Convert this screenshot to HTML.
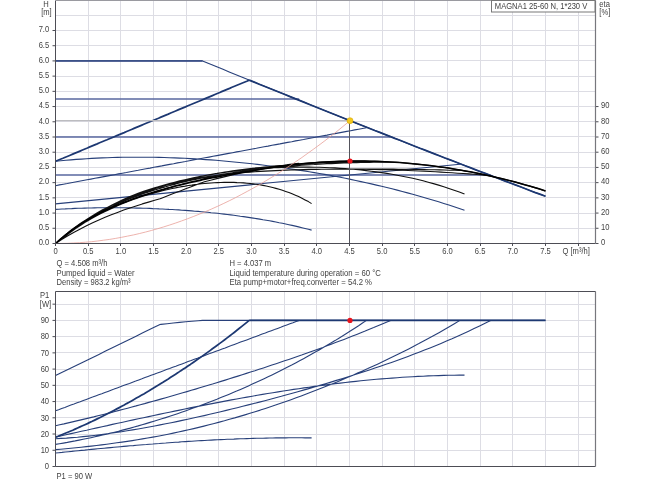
<!DOCTYPE html>
<html><head><meta charset="utf-8"><title>MAGNA1 25-60 N</title><style>html,body{margin:0;padding:0;background:#fff;overflow:hidden}</style></head><body>
<svg width="650" height="487" viewBox="0 0 650 487" style="display:block;font-family:'Liberation Sans',sans-serif;font-size:8.9px" fill="#3e3e3e">
<rect width="650" height="487" fill="#fff"/>
<path d="M88.5 0.5V243.5M88.5 291.5V466.5M120.5 0.5V243.5M120.5 291.5V466.5M153.5 0.5V243.5M153.5 291.5V466.5M186.5 0.5V243.5M186.5 291.5V466.5M218.5 0.5V243.5M218.5 291.5V466.5M251.5 0.5V243.5M251.5 291.5V466.5M284.5 0.5V243.5M284.5 291.5V466.5M316.5 0.5V243.5M316.5 291.5V466.5M349.5 0.5V243.5M349.5 291.5V466.5M382.5 0.5V243.5M382.5 291.5V466.5M414.5 0.5V243.5M414.5 291.5V466.5M447.5 0.5V243.5M447.5 291.5V466.5M480.5 0.5V243.5M480.5 291.5V466.5M512.5 0.5V243.5M512.5 291.5V466.5M545.5 0.5V243.5M545.5 291.5V466.5M578.5 0.5V243.5M578.5 291.5V466.5M55.5 228.5H595.5M55.5 213.5H595.5M55.5 197.5H595.5M55.5 182.5H595.5M55.5 167.5H595.5M55.5 152.5H595.5M55.5 136.5H595.5M55.5 121.5H595.5M55.5 106.5H595.5M55.5 91.5H595.5M55.5 76.5H595.5M55.5 60.5H595.5M55.5 45.5H595.5M55.5 30.5H595.5M55.5 15.5H595.5M55.5 450.5H595.5M55.5 434.5H595.5M55.5 417.5H595.5M55.5 401.5H595.5M55.5 385.5H595.5M55.5 369.5H595.5M55.5 352.5H595.5M55.5 336.5H595.5M55.5 320.5H595.5M55.5 304.5H595.5" stroke="#dddde4" stroke-width="1" fill="none"/>
<path d="M55.5 99.0L58.6 99.0L61.7 99.0L64.8 99.0L67.8 99.0L70.9 99.0L74.0 99.0L77.1 99.0L80.2 99.0L83.3 99.0L86.3 99.0L89.4 99.0L92.5 99.0L95.6 99.0L98.7 99.0L101.8 99.0L104.9 99.0L107.9 99.0L111.0 99.0L114.1 99.0L117.2 99.0L120.3 99.0L123.4 99.0L126.4 99.0L129.5 99.0L132.6 99.0L135.7 99.0L138.8 99.0L141.9 99.0L145.0 99.0L148.0 99.0L151.1 99.0L154.2 99.0L157.3 99.0L160.4 99.0L163.5 99.0L166.5 99.0L169.6 99.0L172.7 99.0L175.8 99.0L178.9 99.0L182.0 99.0L185.1 99.0L188.1 99.0L191.2 99.0L194.3 99.0L197.4 99.0L200.5 99.0L203.6 99.0L206.6 99.0L209.7 99.0L212.8 99.0L215.9 99.0L219.0 99.0L222.1 99.0L225.2 99.0L228.2 99.0L231.3 99.0L234.4 99.0L237.5 99.0L240.6 99.0L243.7 99.0L246.7 99.0L249.8 99.0L252.9 99.0L256.0 99.0L259.1 99.0L262.2 99.0L265.3 99.0L268.3 99.0L271.4 99.0L274.5 99.0L277.6 99.0L280.7 99.0L283.8 99.0L286.8 99.0L289.9 99.0L293.0 99.0L296.1 99.0L299.2 99.0M55.5 137.0L59.7 137.0L64.0 137.0L68.2 137.0L72.5 137.0L76.7 137.0L81.0 137.0L85.2 137.0L89.4 137.0L93.7 137.0L97.9 137.0L102.2 137.0L106.4 137.0L110.7 137.0L114.9 137.0L119.1 137.0L123.4 137.0L127.6 137.0L131.9 137.0L136.1 137.0L140.3 137.0L144.6 137.0L148.8 137.0L153.1 137.0L157.3 137.0L161.6 137.0L165.8 137.0L170.0 137.0L174.3 137.0L178.5 137.0L182.8 137.0L187.0 137.0L191.3 137.0L195.5 137.0L199.7 137.0L204.0 137.0L208.2 137.0L212.5 137.0L216.7 137.0L221.0 137.0L225.2 137.0L229.4 137.0L233.7 137.0L237.9 137.0L242.2 137.0L246.4 137.0L250.6 137.0L254.9 137.0L259.1 137.0L263.4 137.0L267.6 137.0L271.9 137.0L276.1 137.0L280.3 137.0L284.6 137.0L288.8 137.0L293.1 137.0L297.3 137.0L301.6 137.0L305.8 137.0L310.0 137.0L314.3 137.0L318.5 137.0L322.8 137.0L327.0 137.0L331.3 137.0L335.5 137.0L339.7 137.0L344.0 137.0L348.2 137.0L352.5 137.0L356.7 137.0L360.9 137.0L365.2 137.0L369.4 137.0L373.7 137.0L377.9 137.0L382.2 137.0L386.4 137.0L390.6 137.0M55.5 175.0L61.0 175.0L66.5 175.0L72.0 175.0L77.5 175.0L83.0 175.0L88.5 175.0L94.1 175.0L99.6 175.0L105.1 175.0L110.6 175.0L116.1 175.0L121.6 175.0L127.1 175.0L132.6 175.0L138.1 175.0L143.6 175.0L149.1 175.0L154.6 175.0L160.1 175.0L165.7 175.0L171.2 175.0L176.7 175.0L182.2 175.0L187.7 175.0L193.2 175.0L198.7 175.0L204.2 175.0L209.7 175.0L215.2 175.0L220.7 175.0L226.2 175.0L231.7 175.0L237.2 175.0L242.8 175.0L248.3 175.0L253.8 175.0L259.3 175.0L264.8 175.0L270.3 175.0L275.8 175.0L281.3 175.0L286.8 175.0L292.3 175.0L297.8 175.0L303.3 175.0L308.8 175.0L314.4 175.0L319.9 175.0L325.4 175.0L330.9 175.0L336.4 175.0L341.9 175.0L347.4 175.0L352.9 175.0L358.4 175.0L363.9 175.0L369.4 175.0L374.9 175.0L380.4 175.0L386.0 175.0L391.5 175.0L397.0 175.0L402.5 175.0L408.0 175.0L413.5 175.0L419.0 175.0L424.5 175.0L430.0 175.0L435.5 175.0L441.0 175.0L446.5 175.0L452.0 175.0L457.6 175.0L463.1 175.0L468.6 175.0L474.1 175.0L479.6 175.0L485.1 175.0L490.6 175.0M55.5 60.9H202.5" stroke="#5a68a0" stroke-width="1.5" fill="none"/>
<path d="M55.5 60.9L61.7 60.9L67.9 60.9L74.1 60.9L80.3 60.9L86.5 60.9L92.7 60.9L98.9 60.9L105.1 60.9L111.3 60.9L117.5 60.9L123.7 60.9L129.9 60.9L136.1 60.9L142.3 60.9L148.5 60.9L154.7 60.9L160.0 60.9L160.9 60.9L167.1 60.9L173.3 60.9L179.5 60.9L179.6 60.9L185.7 60.9L191.9 60.9L198.2 60.9L202.5 60.9L204.4 61.7L210.6 64.2L216.8 66.8L223.0 69.3L229.2 71.9L235.4 74.4L241.6 77.0L247.8 79.5L254.0 82.0L260.2 84.5L266.4 87.1L272.6 89.6L278.8 92.1L285.0 94.6L291.2 97.1L297.4 99.6L303.6 102.1L309.8 104.6L316.0 107.1L322.2 109.6L328.4 112.0L334.6 114.5L340.8 117.0L347.0 119.5L353.2 121.9L359.4 124.4L365.6 126.8L371.8 129.3L378.0 131.7L384.2 134.2L390.4 136.6L396.6 139.1L402.8 141.5L409.0 143.9L415.2 146.4L421.4 148.8L427.6 151.2L433.8 153.6L440.0 156.0L446.2 158.4L452.4 160.8L458.6 163.2L464.8 165.6L471.0 168.0L477.3 170.4L483.5 172.8L489.7 175.1L495.9 177.5L502.1 179.9L508.3 182.2L514.5 184.6L520.7 187.0L526.9 189.3L533.1 191.7L539.3 194.0L545.5 196.3M55.5 185.7L59.4 184.9L63.4 184.2L67.3 183.5L71.2 182.7L75.2 182.0L79.1 181.3L83.1 180.5L87.0 179.8L90.9 179.1L94.9 178.3L98.8 177.6L102.7 176.9L106.7 176.1L110.6 175.4L114.5 174.7L118.5 173.9L122.4 173.2L126.4 172.5L130.3 171.7L134.2 171.0L138.2 170.3L142.1 169.5L146.0 168.8L150.0 168.1L153.9 167.3L157.8 166.6L161.8 165.9L165.7 165.1L169.7 164.4L173.6 163.7L177.5 162.9L181.5 162.2L185.4 161.5L189.3 160.7L193.3 160.0L197.2 159.3L201.1 158.5L205.1 157.8L209.0 157.1L213.0 156.3L216.9 155.6L220.8 154.9L224.8 154.1L228.7 153.4L232.6 152.7L236.6 151.9L240.5 151.2L244.4 150.5L248.4 149.7L252.3 149.0L256.3 148.3L260.2 147.5L264.1 146.8L268.1 146.1L272.0 145.3L275.9 144.6L279.9 143.9L283.8 143.1L287.7 142.4L291.7 141.7L295.6 140.9L299.6 140.2L303.5 139.5L307.4 138.7L311.4 138.0L315.3 137.3L319.2 136.5L323.2 135.8L327.1 135.1L331.0 134.3L335.0 133.6L338.9 132.9L342.9 132.1L346.8 131.4L350.7 130.7L354.7 129.9L358.6 129.2L362.5 128.5L366.5 127.7M55.5 203.9L60.6 203.4L65.7 202.9L70.9 202.4L76.0 201.9L81.1 201.4L86.2 200.9L91.3 200.4L96.5 199.9L101.6 199.4L106.7 198.9L111.8 198.4L116.9 197.9L122.0 197.4L127.2 196.9L132.3 196.4L137.4 195.9L142.5 195.4L147.6 194.9L152.8 194.4L157.9 193.9L163.0 193.4L168.1 192.9L173.2 192.4L178.4 191.9L183.5 191.4L188.6 190.9L193.7 190.4L198.8 189.9L203.9 189.4L209.1 188.9L214.2 188.4L219.3 187.9L224.4 187.4L229.5 186.9L234.7 186.4L239.8 185.9L244.9 185.4L250.0 184.9L255.1 184.3L260.3 183.8L265.4 183.3L270.5 182.8L275.6 182.3L280.7 181.8L285.9 181.3L291.0 180.8L296.1 180.3L301.2 179.8L306.3 179.3L311.4 178.8L316.6 178.3L321.7 177.8L326.8 177.3L331.9 176.8L337.0 176.3L342.2 175.8L347.3 175.3L352.4 174.8L357.5 174.3L362.6 173.8L367.8 173.3L372.9 172.8L378.0 172.3L383.1 171.8L388.2 171.3L393.3 170.8L398.5 170.3L403.6 169.8L408.7 169.3L413.8 168.8L418.9 168.3L424.1 167.8L429.2 167.3L434.3 166.8L439.4 166.3L444.5 165.8L449.7 165.3L454.8 164.8L459.9 164.3M55.5 161.3L60.7 160.8L65.9 160.3L71.0 159.9L76.2 159.4L81.4 159.1L86.6 158.7L91.7 158.4L96.9 158.1L102.1 157.9L107.3 157.7L112.4 157.5L117.6 157.4L122.8 157.3L128.0 157.2L133.2 157.2L138.3 157.2L143.5 157.2L148.7 157.2L153.9 157.3L159.0 157.4L164.2 157.5L169.4 157.7L174.6 157.9L179.7 158.1L184.9 158.3L190.1 158.6L195.3 158.9L200.4 159.2L205.6 159.6L210.8 159.9L216.0 160.3L221.2 160.8L226.3 161.2L231.5 161.7L236.7 162.2L241.9 162.7L247.0 163.2L252.2 163.8L257.4 164.4L262.6 165.0L267.7 165.7L272.9 166.3L278.1 167.0L283.3 167.8L288.5 168.5L293.6 169.3L298.8 170.1L304.0 170.9L309.2 171.7L314.3 172.6L319.5 173.5L324.7 174.4L329.9 175.3L335.0 176.3L340.2 177.3L345.4 178.3L350.6 179.4L355.8 180.5L360.9 181.6L366.1 182.7L371.3 183.9L376.5 185.1L381.6 186.3L386.8 187.5L392.0 188.8L397.2 190.1L402.3 191.5L407.5 192.9L412.7 194.3L417.9 195.7L423.1 197.2L428.2 198.7L433.4 200.3L438.6 201.8L443.8 203.5L448.9 205.1L454.1 206.8L459.3 208.6L464.5 210.3M55.5 209.4L58.7 209.2L62.0 209.0L65.2 208.9L68.5 208.7L71.7 208.6L75.0 208.4L78.2 208.3L81.4 208.2L84.7 208.1L87.9 208.0L91.2 208.0L94.4 207.9L97.6 207.8L100.9 207.8L104.1 207.8L107.4 207.8L110.6 207.7L113.9 207.8L117.1 207.8L120.3 207.8L123.6 207.8L126.8 207.9L130.1 207.9L133.3 208.0L136.5 208.1L139.8 208.1L143.0 208.2L146.3 208.3L149.5 208.4L152.8 208.6L156.0 208.7L159.2 208.9L162.5 209.0L165.7 209.2L169.0 209.4L172.2 209.5L175.4 209.7L178.7 209.9L181.9 210.2L185.2 210.4L188.4 210.6L191.7 210.9L194.9 211.2L198.1 211.4L201.4 211.7L204.6 212.0L207.9 212.3L211.1 212.7L214.3 213.0L217.6 213.3L220.8 213.7L224.1 214.1L227.3 214.5L230.6 214.9L233.8 215.3L237.0 215.7L240.3 216.2L243.5 216.6L246.8 217.1L250.0 217.6L253.2 218.1L256.5 218.6L259.7 219.1L263.0 219.7L266.2 220.2L269.5 220.8L272.7 221.4L275.9 222.0L279.2 222.7L282.4 223.3L285.7 224.0L288.9 224.7L292.1 225.4L295.4 226.1L298.6 226.9L301.9 227.7L305.1 228.5L308.4 229.3L311.6 230.1M366.5 127.9L366.5 127.2" stroke="#28407a" stroke-width="1.1" fill="none" stroke-linejoin="round"/>
<path d="M55.5 161.3L58.0 160.3L60.4 159.3L62.9 158.3L65.3 157.2L67.8 156.2L70.2 155.2L72.7 154.1L75.1 153.1L77.6 152.1L80.0 151.1L82.5 150.0L84.9 149.0L87.4 148.0L89.8 146.9L92.3 145.9L94.7 144.9L97.2 143.9L99.6 142.8L102.1 141.8L104.5 140.8L107.0 139.8L109.4 138.7L111.9 137.7L114.3 136.7L116.8 135.6L119.3 134.6L121.7 133.6L124.2 132.6L126.6 131.5L129.1 130.5L131.5 129.5L134.0 128.4L136.4 127.4L138.9 126.4L141.3 125.4L143.8 124.3L146.2 123.3L148.7 122.3L151.1 121.3L153.6 120.2L156.0 119.2L158.5 118.2L160.9 117.1L163.4 116.1L165.8 115.1L168.3 114.1L170.7 113.0L173.2 112.0L175.6 111.0L178.1 109.9L180.5 108.9L183.0 107.9L185.5 106.9L187.9 105.8L190.4 104.8L192.8 103.8L195.3 102.7L197.7 101.7L200.2 100.7L202.6 99.7L205.1 98.6L207.5 97.6L210.0 96.6L212.4 95.6L214.9 94.5L217.3 93.5L219.8 92.5L222.2 91.4L224.7 90.4L227.1 89.4L229.6 88.4L232.0 87.3L234.5 86.3L236.9 85.3L239.4 84.2L241.8 83.2L244.3 82.2L246.8 81.2L249.2 80.1M249.2 80.1L254.2 82.1L259.2 84.2L264.3 86.2L269.3 88.2L274.3 90.3L279.3 92.3L284.4 94.3L289.4 96.4L294.4 98.4L299.4 100.4L304.4 102.4L309.5 104.5L314.5 106.5L319.5 108.5L324.5 110.5L329.5 112.5L334.6 114.5L339.6 116.5L344.6 118.5L349.6 120.5L354.7 122.5L359.7 124.5L364.7 126.5L369.7 128.5L374.7 130.5L379.8 132.4L384.8 134.4L389.8 136.4L394.8 138.4L399.9 140.3L404.9 142.3L409.9 144.3L414.9 146.2L419.9 148.2L425.0 150.1L430.0 152.1L435.0 154.1L440.0 156.0L445.0 158.0L450.1 159.9L455.1 161.8L460.1 163.8L465.1 165.7L470.2 167.6L475.2 169.6L480.2 171.5L485.2 173.4L490.2 175.4L495.3 177.3L500.3 179.2L505.3 181.1L510.3 183.0L515.3 184.9L520.4 186.8L525.4 188.7L530.4 190.7L535.4 192.6L540.5 194.4L545.5 196.3" stroke="#1d3872" stroke-width="1.75" fill="none" stroke-linejoin="round"/>
<path d="M55.5 375.6L61.7 372.6L67.9 369.5L74.1 366.5L80.3 363.5L86.5 360.4L92.7 357.4L98.9 354.4L105.1 351.3L111.3 348.3L117.5 345.3L123.7 342.2L129.9 339.2L136.1 336.2L142.3 333.1L148.5 330.1L154.7 327.1L160.0 324.5L160.9 324.4L167.1 323.7L173.3 323.0L179.5 322.4L179.6 322.4L185.7 321.8L191.9 321.3L198.2 320.8L202.5 320.4L204.4 320.4L210.6 320.4L216.8 320.4L223.0 320.4L229.2 320.4L235.4 320.4L241.6 320.4L247.8 320.4L254.0 320.4L260.2 320.4L266.4 320.4L272.6 320.4L278.8 320.4L285.0 320.4L291.2 320.4L297.4 320.4L303.6 320.4L309.8 320.4L316.0 320.4L322.2 320.4L328.4 320.4L334.6 320.4L340.8 320.4L347.0 320.4L353.2 320.4L359.4 320.4L365.6 320.4L371.8 320.4L378.0 320.4L384.2 320.4L390.4 320.4L396.6 320.4L402.8 320.4L409.0 320.4L415.2 320.4L421.4 320.4L427.6 320.4L433.8 320.4L440.0 320.4L446.2 320.4L452.4 320.4L458.6 320.4L464.8 320.4L471.0 320.4L477.3 320.4L483.5 320.4L489.7 320.4L495.9 320.4L502.1 320.4L508.3 320.4L514.5 320.4L520.7 320.4L526.9 320.4L533.1 320.4L539.3 320.4L545.5 320.4M55.5 410.8L58.6 409.7L61.7 408.5L64.8 407.4L67.8 406.2L70.9 405.1L74.0 404.0L77.1 402.8L80.2 401.7L83.3 400.5L86.3 399.4L89.4 398.2L92.5 397.1L95.6 395.9L98.7 394.8L101.8 393.7L104.9 392.5L107.9 391.4L111.0 390.2L114.1 389.1L117.2 387.9L120.3 386.8L123.4 385.6L126.4 384.5L129.5 383.4L132.6 382.2L135.7 381.1L138.8 379.9L141.9 378.8L145.0 377.6L148.0 376.5L151.1 375.3L154.2 374.2L157.3 373.1L160.4 371.9L163.5 370.8L166.5 369.6L169.6 368.5L172.7 367.3L175.8 366.2L178.9 365.0L182.0 363.9L185.1 362.8L188.1 361.6L191.2 360.5L194.3 359.3L197.4 358.2L200.5 357.0L203.6 355.9L206.6 354.7L209.7 353.6L212.8 352.4L215.9 351.3L219.0 350.2L222.1 349.0L225.2 347.9L228.2 346.7L231.3 345.6L234.4 344.4L237.5 343.3L240.6 342.1L243.7 341.0L246.7 339.9L249.8 338.7L252.9 337.6L256.0 336.4L259.1 335.3L262.2 334.1L265.3 333.0L268.3 331.8L271.4 330.7L274.5 329.6L277.6 328.4L280.7 327.3L283.8 326.1L286.8 325.0L289.9 323.8L293.0 322.7L296.1 321.5L299.2 320.4M55.5 425.8L59.7 424.8L64.0 423.9L68.2 422.9L72.5 421.9L76.7 420.9L81.0 419.9L85.2 418.9L89.4 417.9L93.7 416.9L97.9 415.8L102.2 414.7L106.4 413.7L110.7 412.6L114.9 411.5L119.1 410.4L123.4 409.3L127.6 408.2L131.9 407.0L136.1 405.9L140.3 404.7L144.6 403.6L148.8 402.4L153.1 401.2L157.3 400.1L161.6 398.9L165.8 397.7L170.0 396.5L174.3 395.2L178.5 394.0L182.8 392.8L187.0 391.6L191.3 390.3L195.5 389.1L199.7 387.8L204.0 386.5L208.2 385.2L212.5 384.0L216.7 382.7L221.0 381.4L225.2 380.1L229.4 378.7L233.7 377.4L237.9 376.1L242.2 374.7L246.4 373.4L250.6 372.0L254.9 370.7L259.1 369.3L263.4 367.9L267.6 366.5L271.9 365.1L276.1 363.7L280.3 362.2L284.6 360.8L288.8 359.4L293.1 357.9L297.3 356.4L301.6 355.0L305.8 353.5L310.0 352.0L314.3 350.4L318.5 348.9L322.8 347.4L327.0 345.8L331.3 344.2L335.5 342.6L339.7 341.0L344.0 339.4L348.2 337.8L352.5 336.1L356.7 334.4L360.9 332.8L365.2 331.1L369.4 329.3L373.7 327.6L377.9 325.8L382.2 324.0L386.4 322.2L390.6 320.4M55.5 438.7L61.0 438.4L66.5 438.1L72.0 437.6L77.5 437.2L83.0 436.6L88.5 436.1L94.1 435.5L99.6 434.8L105.1 434.1L110.6 433.3L116.1 432.5L121.6 431.7L127.1 430.8L132.6 429.9L138.1 429.0L143.6 428.0L149.1 427.0L154.6 426.0L160.1 424.9L165.7 423.8L171.2 422.7L176.7 421.6L182.2 420.4L187.7 419.2L193.2 418.0L198.7 416.8L204.2 415.6L209.7 414.3L215.2 413.0L220.7 411.7L226.2 410.4L231.7 409.0L237.2 407.7L242.8 406.3L248.3 404.9L253.8 403.5L259.3 402.1L264.8 400.7L270.3 399.2L275.8 397.7L281.3 396.3L286.8 394.7L292.3 393.2L297.8 391.7L303.3 390.1L308.8 388.6L314.4 387.0L319.9 385.4L325.4 383.7L330.9 382.1L336.4 380.4L341.9 378.7L347.4 377.0L352.9 375.3L358.4 373.5L363.9 371.7L369.4 369.9L374.9 368.1L380.4 366.2L386.0 364.3L391.5 362.4L397.0 360.4L402.5 358.4L408.0 356.4L413.5 354.3L419.0 352.2L424.5 350.1L430.0 347.9L435.5 345.7L441.0 343.4L446.5 341.0L452.0 338.7L457.6 336.2L463.1 333.7L468.6 331.2L474.1 328.6L479.6 325.9L485.1 323.2L490.6 320.4M55.5 444.4L59.4 443.8L63.4 443.1L67.3 442.4L71.2 441.6L75.2 440.9L79.1 440.1L83.1 439.3L87.0 438.5L90.9 437.7L94.9 436.8L98.8 435.9L102.7 435.0L106.7 434.1L110.6 433.1L114.5 432.2L118.5 431.2L122.4 430.1L126.4 429.1L130.3 428.1L134.2 427.0L138.2 425.9L142.1 424.7L146.0 423.6L150.0 422.4L153.9 421.2L157.8 420.0L161.8 418.8L165.7 417.6L169.7 416.3L173.6 415.0L177.5 413.7L181.5 412.3L185.4 410.9L189.3 409.6L193.3 408.1L197.2 406.7L201.1 405.3L205.1 403.8L209.0 402.3L213.0 400.7L216.9 399.2L220.8 397.6L224.8 396.0L228.7 394.4L232.6 392.7L236.6 391.1L240.5 389.4L244.4 387.7L248.4 385.9L252.3 384.1L256.3 382.3L260.2 380.5L264.1 378.7L268.1 376.8L272.0 374.9L275.9 373.0L279.9 371.0L283.8 369.0L287.7 367.0L291.7 365.0L295.6 362.9L299.6 360.8L303.5 358.7L307.4 356.5L311.4 354.3L315.3 352.1L319.2 349.9L323.2 347.6L327.1 345.3L331.0 342.9L335.0 340.6L338.9 338.2L342.9 335.7L346.8 333.3L350.7 330.8L354.7 328.2L358.6 325.7L362.5 323.0L366.5 320.4M55.5 449.6L60.6 449.2L65.7 448.7L70.9 448.2L76.0 447.7L81.1 447.2L86.2 446.6L91.3 446.1L96.5 445.5L101.6 444.9L106.7 444.2L111.8 443.5L116.9 442.8L122.0 442.1L127.2 441.4L132.3 440.6L137.4 439.8L142.5 438.9L147.6 438.0L152.8 437.1L157.9 436.2L163.0 435.2L168.1 434.2L173.2 433.1L178.4 432.0L183.5 430.9L188.6 429.8L193.7 428.6L198.8 427.4L203.9 426.1L209.1 424.8L214.2 423.5L219.3 422.1L224.4 420.8L229.5 419.3L234.7 417.9L239.8 416.4L244.9 414.9L250.0 413.3L255.1 411.7L260.3 410.1L265.4 408.4L270.5 406.7L275.6 405.0L280.7 403.3L285.9 401.5L291.0 399.7L296.1 397.8L301.2 395.9L306.3 394.0L311.4 392.1L316.6 390.1L321.7 388.1L326.8 386.0L331.9 384.0L337.0 381.9L342.2 379.7L347.3 377.6L352.4 375.4L357.5 373.1L362.6 370.9L367.8 368.6L372.9 366.2L378.0 363.9L383.1 361.5L388.2 359.0L393.3 356.5L398.5 354.0L403.6 351.5L408.7 348.9L413.8 346.2L418.9 343.6L424.1 340.8L429.2 338.1L434.3 335.3L439.4 332.4L444.5 329.5L449.7 326.5L454.8 323.5L459.9 320.4M55.5 437.1L60.7 436.0L65.9 434.8L71.0 433.6L76.2 432.5L81.4 431.3L86.6 430.2L91.7 429.0L96.9 427.9L102.1 426.7L107.3 425.6L112.4 424.4L117.6 423.3L122.8 422.2L128.0 421.0L133.2 419.9L138.3 418.8L143.5 417.7L148.7 416.6L153.9 415.5L159.0 414.4L164.2 413.3L169.4 412.2L174.6 411.1L179.7 410.1L184.9 409.0L190.1 407.9L195.3 406.9L200.4 405.9L205.6 404.9L210.8 403.9L216.0 402.9L221.2 401.9L226.3 400.9L231.5 399.9L236.7 399.0L241.9 398.0L247.0 397.1L252.2 396.2L257.4 395.3L262.6 394.4L267.7 393.5L272.9 392.7L278.1 391.9L283.3 391.0L288.5 390.2L293.6 389.4L298.8 388.7L304.0 387.9L309.2 387.2L314.3 386.4L319.5 385.7L324.7 385.1L329.9 384.4L335.0 383.8L340.2 383.1L345.4 382.5L350.6 381.9L355.8 381.4L360.9 380.8L366.1 380.3L371.3 379.8L376.5 379.3L381.6 378.9L386.8 378.5L392.0 378.1L397.2 377.7L402.3 377.3L407.5 377.0L412.7 376.7L417.9 376.4L423.1 376.2L428.2 375.9L433.4 375.7L438.6 375.6L443.8 375.4L448.9 375.3L454.1 375.2L459.3 375.1L464.5 375.1M55.5 453.0L58.7 452.7L62.0 452.4L65.2 452.0L68.5 451.7L71.7 451.4L75.0 451.0L78.2 450.7L81.4 450.4L84.7 450.1L87.9 449.7L91.2 449.4L94.4 449.1L97.6 448.8L100.9 448.5L104.1 448.2L107.4 447.9L110.6 447.6L113.9 447.3L117.1 447.0L120.3 446.7L123.6 446.4L126.8 446.1L130.1 445.8L133.3 445.6L136.5 445.3L139.8 445.0L143.0 444.7L146.3 444.5L149.5 444.2L152.8 444.0L156.0 443.7L159.2 443.5L162.5 443.2L165.7 443.0L169.0 442.7L172.2 442.5L175.4 442.3L178.7 442.1L181.9 441.8L185.2 441.6L188.4 441.4L191.7 441.2L194.9 441.0L198.1 440.8L201.4 440.6L204.6 440.5L207.9 440.3L211.1 440.1L214.3 439.9L217.6 439.8L220.8 439.6L224.1 439.5L227.3 439.3L230.6 439.2L233.8 439.1L237.0 438.9L240.3 438.8L243.5 438.7L246.8 438.6L250.0 438.5L253.2 438.4L256.5 438.3L259.7 438.2L263.0 438.2L266.2 438.1L269.5 438.0L272.7 438.0L275.9 437.9L279.2 437.9L282.4 437.9L285.7 437.9L288.9 437.8L292.1 437.8L295.4 437.8L298.6 437.8L301.9 437.8L305.1 437.9L308.4 437.9L311.6 437.9" stroke="#28407a" stroke-width="1.1" fill="none" stroke-linejoin="round"/>
<path d="M55.5 437.1L58.0 436.2L60.4 435.2L62.9 434.2L65.3 433.2L67.8 432.2L70.2 431.2L72.7 430.2L75.1 429.1L77.6 428.0L80.0 426.9L82.5 425.8L84.9 424.7L87.4 423.6L89.8 422.4L92.3 421.3L94.7 420.1L97.2 418.9L99.6 417.7L102.1 416.5L104.5 415.3L107.0 414.0L109.4 412.8L111.9 411.5L114.3 410.2L116.8 408.9L119.3 407.6L121.7 406.3L124.2 405.0L126.6 403.6L129.1 402.3L131.5 400.9L134.0 399.5L136.4 398.1L138.9 396.7L141.3 395.3L143.8 393.9L146.2 392.4L148.7 391.0L151.1 389.5L153.6 388.0L156.0 386.5L158.5 385.0L160.9 383.5L163.4 382.0L165.8 380.4L168.3 378.9L170.7 377.3L173.2 375.7L175.6 374.2L178.1 372.6L180.5 370.9L183.0 369.3L185.5 367.7L187.9 366.0L190.4 364.4L192.8 362.7L195.3 361.0L197.7 359.3L200.2 357.6L202.6 355.9L205.1 354.1L207.5 352.4L210.0 350.6L212.4 348.8L214.9 347.0L217.3 345.2L219.8 343.4L222.2 341.6L224.7 339.7L227.1 337.9L229.6 336.0L232.0 334.1L234.5 332.2L236.9 330.3L239.4 328.3L241.8 326.4L244.3 324.4L246.8 322.4L249.2 320.4M249.2 320.4L254.2 320.4L259.2 320.4L264.3 320.4L269.3 320.4L274.3 320.4L279.3 320.4L284.4 320.4L289.4 320.4L294.4 320.4L299.4 320.4L304.4 320.4L309.5 320.4L314.5 320.4L319.5 320.4L324.5 320.4L329.5 320.4L334.6 320.4L339.6 320.4L344.6 320.4L349.6 320.4L354.7 320.4L359.7 320.4L364.7 320.4L369.7 320.4L374.7 320.4L379.8 320.4L384.8 320.4L389.8 320.4L394.8 320.4L399.9 320.4L404.9 320.4L409.9 320.4L414.9 320.4L419.9 320.4L425.0 320.4L430.0 320.4L435.0 320.4L440.0 320.4L445.0 320.4L450.1 320.4L455.1 320.4L460.1 320.4L465.1 320.4L470.2 320.4L475.2 320.4L480.2 320.4L485.2 320.4L490.2 320.4L495.3 320.4L500.3 320.4L505.3 320.4L510.3 320.4L515.3 320.4L520.4 320.4L525.4 320.4L530.4 320.4L535.4 320.4L540.5 320.4L545.5 320.4" stroke="#1d3872" stroke-width="1.75" fill="none" stroke-linejoin="round"/>
<path d="M55.5 243.5L61.7 239.5L67.9 235.7L74.1 232.2L80.3 228.9L86.5 225.7L92.7 222.8L98.9 220.0L105.1 217.3L111.3 214.8L117.5 212.4L123.7 210.1L129.9 208.0L136.1 205.9L142.3 203.9L148.5 202.1L154.7 200.3L160.0 198.8L160.9 198.4L167.1 196.0L173.3 193.6L179.5 191.2L179.6 191.2L185.7 188.8L191.9 186.4L198.2 184.0L202.5 182.4L204.4 181.8L210.6 180.2L216.8 178.6L223.0 177.1L229.2 175.6L235.4 174.2L241.6 172.9L247.8 171.7L254.0 170.5L260.2 169.4L266.4 168.3L272.6 167.4L278.8 166.5L285.0 165.7L291.2 164.9L297.4 164.2L303.6 163.6L309.8 163.0L316.0 162.5L322.2 162.1L328.4 161.8L334.6 161.5L340.8 161.3L347.0 161.1L353.2 161.0L359.4 161.0L365.6 161.1L371.8 161.2L378.0 161.4L384.2 161.6L390.4 162.0L396.6 162.3L402.8 162.8L409.0 163.3L415.2 163.9L421.4 164.5L427.6 165.2L433.8 166.0L440.0 166.9L446.2 167.8L452.4 168.7L458.6 169.8L464.8 170.9L471.0 172.0L477.3 173.2L483.5 174.5L489.7 175.9L495.9 177.3L502.1 178.8L508.3 180.3L514.5 181.9L520.7 183.6L526.9 185.3L533.1 187.1L539.3 188.9L545.5 190.9M55.5 243.5L58.6 240.9L61.7 238.4L64.8 236.0L67.8 233.6L70.9 231.4L74.0 229.3L77.1 227.2L80.2 225.2L83.3 223.3L86.3 221.4L89.4 219.6L92.5 217.8L95.6 216.2L98.7 214.5L101.8 212.9L104.9 211.4L107.9 209.9L111.0 208.5L114.1 207.1L117.2 205.7L120.3 204.4L123.4 203.1L126.4 201.9L129.5 200.7L132.6 199.5L135.7 198.3L138.8 197.2L141.9 196.1L145.0 195.1L148.0 194.0L151.1 193.0L154.2 192.1L157.3 191.1L160.4 190.2L163.5 189.2L166.5 188.4L169.6 187.5L172.7 186.6L175.8 185.8L178.9 185.0L182.0 184.2L185.1 183.4L188.1 182.7L191.2 181.9L194.3 181.2L197.4 180.5L200.5 179.8L203.6 179.1L206.6 178.4L209.7 177.8L212.8 177.1L215.9 176.5L219.0 175.9L222.1 175.3L225.2 174.7L228.2 174.1L231.3 173.5L234.4 173.0L237.5 172.4L240.6 171.9L243.7 171.4L246.7 170.8L249.8 170.3L252.9 169.8L256.0 169.3L259.1 168.9L262.2 168.4L265.3 167.9L268.3 167.5L271.4 167.0L274.5 166.6L277.6 166.1L280.7 165.7L283.8 165.3L286.8 164.9L289.9 164.4L293.0 164.0L296.1 163.6L299.2 163.3M55.5 243.5L59.7 239.9L64.0 236.4L68.2 233.2L72.5 230.0L76.7 227.0L81.0 224.1L85.2 221.4L89.4 218.7L93.7 216.2L97.9 213.8L102.2 211.5L106.4 209.3L110.7 207.2L114.9 205.2L119.1 203.3L123.4 201.4L127.6 199.7L131.9 198.0L136.1 196.4L140.3 194.8L144.6 193.3L148.8 191.9L153.1 190.5L157.3 189.2L161.6 187.9L165.8 186.7L170.0 185.5L174.3 184.4L178.5 183.3L182.8 182.3L187.0 181.3L191.3 180.3L195.5 179.4L199.7 178.5L204.0 177.7L208.2 176.9L212.5 176.1L216.7 175.3L221.0 174.6L225.2 173.9L229.4 173.2L233.7 172.6L237.9 172.0L242.2 171.4L246.4 170.8L250.6 170.3L254.9 169.8L259.1 169.3L263.4 168.8L267.6 168.3L271.9 167.9L276.1 167.4L280.3 167.0L284.6 166.7L288.8 166.3L293.1 165.9L297.3 165.6L301.6 165.3L305.8 165.0L310.0 164.7L314.3 164.5L318.5 164.2L322.8 164.0L327.0 163.8L331.3 163.6L335.5 163.4L339.7 163.2L344.0 163.0L348.2 162.9L352.5 162.8L356.7 162.6L360.9 162.5L365.2 162.4L369.4 162.4L373.7 162.3L377.9 162.3L382.2 162.2L386.4 162.2L390.6 162.2M55.5 243.5L61.0 239.0L66.5 234.7L72.0 230.4L77.5 226.4L83.0 222.5L88.5 218.8L94.1 215.2L99.6 211.8L105.1 208.7L110.6 205.7L116.1 202.9L121.6 200.2L127.1 197.8L132.6 195.5L138.1 193.3L143.6 191.3L149.1 189.5L154.6 187.8L160.1 186.2L165.7 184.7L171.2 183.3L176.7 182.0L182.2 180.8L187.7 179.8L193.2 178.8L198.7 177.8L204.2 177.0L209.7 176.2L215.2 175.5L220.7 174.8L226.2 174.2L231.7 173.6L237.2 173.1L242.8 172.6L248.3 172.2L253.8 171.8L259.3 171.4L264.8 171.1L270.3 170.8L275.8 170.5L281.3 170.2L286.8 170.0L292.3 169.8L297.8 169.7L303.3 169.5L308.8 169.4L314.4 169.3L319.9 169.2L325.4 169.2L330.9 169.2L336.4 169.1L341.9 169.1L347.4 169.2L352.9 169.2L358.4 169.3L363.9 169.3L369.4 169.4L374.9 169.5L380.4 169.7L386.0 169.8L391.5 170.0L397.0 170.1L402.5 170.3L408.0 170.5L413.5 170.8L419.0 171.0L424.5 171.3L430.0 171.5L435.5 171.8L441.0 172.1L446.5 172.5L452.0 172.8L457.6 173.2L463.1 173.5L468.6 173.9L474.1 174.3L479.6 174.8L485.1 175.2L490.6 175.6M55.5 243.5L59.4 240.1L63.4 236.9L67.3 233.7L71.2 230.7L75.2 227.8L79.1 225.0L83.1 222.3L87.0 219.7L90.9 217.2L94.9 214.8L98.8 212.5L102.7 210.2L106.7 208.1L110.6 206.1L114.5 204.1L118.5 202.2L122.4 200.4L126.4 198.7L130.3 197.0L134.2 195.4L138.2 193.9L142.1 192.4L146.0 191.0L150.0 189.7L153.9 188.4L157.8 187.1L161.8 185.9L165.7 184.8L169.7 183.7L173.6 182.6L177.5 181.6L181.5 180.6L185.4 179.7L189.3 178.8L193.3 177.9L197.2 177.1L201.1 176.3L205.1 175.5L209.0 174.8L213.0 174.0L216.9 173.4L220.8 172.7L224.8 172.1L228.7 171.5L232.6 170.9L236.6 170.3L240.5 169.8L244.4 169.3L248.4 168.8L252.3 168.3L256.3 167.9L260.2 167.5L264.1 167.1L268.1 166.7L272.0 166.3L275.9 165.9L279.9 165.6L283.8 165.3L287.7 165.0L291.7 164.7L295.6 164.4L299.6 164.1L303.5 163.9L307.4 163.6L311.4 163.4L315.3 163.2L319.2 163.0L323.2 162.8L327.1 162.6L331.0 162.5L335.0 162.3L338.9 162.2L342.9 162.1L346.8 161.9L350.7 161.8L354.7 161.7L358.6 161.6L362.5 161.6L366.5 161.5M55.5 243.5L60.6 239.6L65.7 235.7L70.9 232.0L76.0 228.4L81.1 225.0L86.2 221.6L91.3 218.4L96.5 215.3L101.6 212.3L106.7 209.4L111.8 206.7L116.9 204.1L122.0 201.6L127.2 199.3L132.3 197.1L137.4 195.0L142.5 193.0L147.6 191.2L152.8 189.4L157.9 187.8L163.0 186.3L168.1 184.8L173.2 183.5L178.4 182.3L183.5 181.1L188.6 180.0L193.7 179.0L198.8 178.1L203.9 177.3L209.1 176.5L214.2 175.8L219.3 175.1L224.4 174.5L229.5 173.9L234.7 173.4L239.8 173.0L244.9 172.5L250.0 172.1L255.1 171.8L260.3 171.4L265.4 171.1L270.5 170.9L275.6 170.6L280.7 170.4L285.9 170.2L291.0 170.0L296.1 169.9L301.2 169.7L306.3 169.6L311.4 169.5L316.6 169.4L321.7 169.3L326.8 169.2L331.9 169.2L337.0 169.1L342.2 169.1L347.3 169.0L352.4 169.0L357.5 169.0L362.6 169.0L367.8 169.0L372.9 169.0L378.0 169.0L383.1 169.1L388.2 169.1L393.3 169.1L398.5 169.2L403.6 169.2L408.7 169.3L413.8 169.4L418.9 169.5L424.1 169.6L429.2 169.7L434.3 169.8L439.4 169.9L444.5 170.0L449.7 170.2L454.8 170.3L459.9 170.5M55.5 243.5L60.7 238.8L65.9 234.5L71.0 230.3L76.2 226.5L81.4 222.8L86.6 219.4L91.7 216.1L96.9 213.0L102.1 210.1L107.3 207.4L112.4 204.8L117.6 202.3L122.8 199.9L128.0 197.7L133.2 195.6L138.3 193.6L143.5 191.7L148.7 189.9L153.9 188.2L159.0 186.6L164.2 185.1L169.4 183.6L174.6 182.2L179.7 180.9L184.9 179.7L190.1 178.5L195.3 177.5L200.4 176.4L205.6 175.5L210.8 174.6L216.0 173.7L221.2 172.9L226.3 172.2L231.5 171.5L236.7 170.9L241.9 170.3L247.0 169.8L252.2 169.3L257.4 168.9L262.6 168.5L267.7 168.1L272.9 167.8L278.1 167.6L283.3 167.4L288.5 167.3L293.6 167.1L298.8 167.1L304.0 167.1L309.2 167.1L314.3 167.2L319.5 167.3L324.7 167.5L329.9 167.7L335.0 167.9L340.2 168.3L345.4 168.6L350.6 169.0L355.8 169.5L360.9 170.0L366.1 170.6L371.3 171.2L376.5 171.9L381.6 172.6L386.8 173.4L392.0 174.3L397.2 175.2L402.3 176.2L407.5 177.2L412.7 178.3L417.9 179.5L423.1 180.8L428.2 182.2L433.4 183.6L438.6 185.1L443.8 186.7L448.9 188.4L454.1 190.2L459.3 192.1L464.5 194.1M55.5 243.5L58.7 240.8L62.0 238.2L65.2 235.8L68.5 233.4L71.7 231.1L75.0 228.8L78.2 226.7L81.4 224.6L84.7 222.6L87.9 220.7L91.2 218.8L94.4 217.0L97.6 215.3L100.9 213.6L104.1 211.9L107.4 210.4L110.6 208.9L113.9 207.4L117.1 206.0L120.3 204.6L123.6 203.3L126.8 202.0L130.1 200.8L133.3 199.6L136.5 198.4L139.8 197.3L143.0 196.3L146.3 195.3L149.5 194.3L152.8 193.4L156.0 192.5L159.2 191.6L162.5 190.8L165.7 190.0L169.0 189.2L172.2 188.5L175.4 187.9L178.7 187.2L181.9 186.6L185.2 186.1L188.4 185.5L191.7 185.1L194.9 184.6L198.1 184.2L201.4 183.8L204.6 183.5L207.9 183.2L211.1 183.0L214.3 182.8L217.6 182.6L220.8 182.5L224.1 182.4L227.3 182.4L230.6 182.4L233.8 182.4L237.0 182.6L240.3 182.7L243.5 182.9L246.8 183.2L250.0 183.5L253.2 183.9L256.5 184.3L259.7 184.8L263.0 185.4L266.2 186.0L269.5 186.7L272.7 187.5L275.9 188.4L279.2 189.3L282.4 190.3L285.7 191.4L288.9 192.5L292.1 193.8L295.4 195.2L298.6 196.6L301.9 198.2L305.1 199.9L308.4 201.6L311.6 203.6" stroke="#111" stroke-width="1.1" fill="none" stroke-linejoin="round"/>
<path d="M55.5 243.5L58.0 241.3L60.4 239.1L62.9 237.0L65.3 235.0L67.8 233.1L70.2 231.2L72.7 229.5L75.1 227.7L77.6 226.1L80.0 224.4L82.5 222.9L84.9 221.4L87.4 219.9L89.8 218.5L92.3 217.1L94.7 215.8L97.2 214.5L99.6 213.2L102.1 212.0L104.5 210.8L107.0 209.6L109.4 208.5L111.9 207.4L114.3 206.3L116.8 205.3L119.3 204.3L121.7 203.3L124.2 202.3L126.6 201.4L129.1 200.4L131.5 199.5L134.0 198.6L136.4 197.8L138.9 196.9L141.3 196.1L143.8 195.3L146.2 194.5L148.7 193.7L151.1 193.0L153.6 192.2L156.0 191.5L158.5 190.8L160.9 190.1L163.4 189.4L165.8 188.7L168.3 188.0L170.7 187.4L173.2 186.7L175.6 186.1L178.1 185.5L180.5 184.9L183.0 184.3L185.5 183.7L187.9 183.1L190.4 182.5L192.8 182.0L195.3 181.4L197.7 180.9L200.2 180.4L202.6 179.8L205.1 179.3L207.5 178.8L210.0 178.3L212.4 177.8L214.9 177.4L217.3 176.9L219.8 176.4L222.2 176.0L224.7 175.5L227.1 175.1L229.6 174.6L232.0 174.2L234.5 173.8L236.9 173.4L239.4 173.0L241.8 172.6L244.3 172.2L246.8 171.8L249.2 171.4M249.2 171.4L254.2 170.4L259.2 169.5L264.3 168.7L269.3 167.9L274.3 167.1L279.3 166.4L284.4 165.7L289.4 165.1L294.4 164.5L299.4 164.0L304.4 163.5L309.5 163.1L314.5 162.7L319.5 162.3L324.5 162.0L329.5 161.7L334.6 161.5L339.6 161.3L344.6 161.2L349.6 161.1L354.7 161.0L359.7 161.0L364.7 161.1L369.7 161.2L374.7 161.3L379.8 161.5L384.8 161.7L389.8 161.9L394.8 162.2L399.9 162.6L404.9 163.0L409.9 163.4L414.9 163.9L419.9 164.4L425.0 164.9L430.0 165.5L435.0 166.2L440.0 166.9L445.0 167.6L450.1 168.3L455.1 169.2L460.1 170.0L465.1 170.9L470.2 171.8L475.2 172.8L480.2 173.8L485.2 174.9L490.2 176.0L495.3 177.2L500.3 178.3L505.3 179.6L510.3 180.8L515.3 182.1L520.4 183.5L525.4 184.9L530.4 186.3L535.4 187.8L540.5 189.3L545.5 190.9"  stroke="#000" stroke-width="1.55" fill="none" stroke-linejoin="round"/>
<path d="M55.5 120.7H350.0" stroke="#bcbcc0" stroke-width="1.2" fill="none"/>
<path d="M349.5 120.7V243.5" stroke="#54545c" stroke-width="1" fill="none"/>
<path d="M55.5 243.5L61.5 243.4L67.5 243.3L73.5 243.0L79.5 242.7L85.6 242.2L91.6 241.7L97.6 241.0L103.6 240.2L109.6 239.4L115.6 238.4L121.6 237.3L127.6 236.1L133.6 234.9L139.6 233.5L145.7 232.0L151.7 230.4L157.7 228.7L163.7 226.9L169.7 225.0L175.7 223.0L181.7 220.9L187.7 218.7L193.7 216.4L199.7 214.0L205.8 211.5L211.8 208.9L217.8 206.2L223.8 203.4L229.8 200.5L235.8 197.5L241.8 194.3L247.8 191.1L253.8 187.8L259.9 184.4L265.9 180.8L271.9 177.2L277.9 173.5L283.9 169.6L289.9 165.7L295.9 161.6L301.9 157.5L307.9 153.2L313.9 148.9L320.0 144.4L326.0 139.9L332.0 135.2L338.0 130.5L344.0 125.6L350.0 120.7" stroke="#e79a92" stroke-width="0.75" fill="none"/>
<circle cx="350.0" cy="120.7" r="3" fill="#f2c81e" stroke="#d9a800" stroke-width="0.6"/>
<circle cx="350.0" cy="161.0" r="2.6" fill="#e8141c"/>
<circle cx="350.0" cy="320.4" r="2.6" fill="#e8141c"/>
<path d="M55.5 0.5V243.5H595.5M55.5 291.5V466.5H595.5M52.5 243.50H55.5M52.5 228.28H55.5M52.5 213.07H55.5M52.5 197.86H55.5M52.5 182.64H55.5M52.5 167.43H55.5M52.5 152.21H55.5M52.5 137.00H55.5M52.5 121.78H55.5M52.5 106.56H55.5M52.5 91.35H55.5M52.5 76.13H55.5M52.5 60.92H55.5M52.5 45.71H55.5M52.5 30.49H55.5M595.5 243.50H598.5M595.5 228.28H598.5M595.5 213.07H598.5M595.5 197.86H598.5M595.5 182.64H598.5M595.5 167.43H598.5M595.5 152.21H598.5M595.5 137.00H598.5M595.5 121.78H598.5M595.5 106.56H598.5M55.5 243.5v2.5M88.5 243.5v2.5M120.5 243.5v2.5M153.5 243.5v2.5M186.5 243.5v2.5M218.5 243.5v2.5M251.5 243.5v2.5M284.5 243.5v2.5M316.5 243.5v2.5M349.5 243.5v2.5M382.5 243.5v2.5M414.5 243.5v2.5M447.5 243.5v2.5M480.5 243.5v2.5M512.5 243.5v2.5M545.5 243.5v2.5M578.5 243.5v2.5M52.5 466.50H55.5M52.5 450.27H55.5M52.5 434.03H55.5M52.5 417.80H55.5M52.5 401.57H55.5M52.5 385.34H55.5M52.5 369.10H55.5M52.5 352.87H55.5M52.5 336.64H55.5M52.5 320.40H55.5M52.5 304.17H55.5" stroke="#4d4d55" stroke-width="1" fill="none"/>
<path d="M55.5 0.5H595.5" stroke="#9a9aa0" stroke-width="1" fill="none"/>
<path d="M595.5 243.5V0.5M595.5 466.5V291.5" stroke="#77777d" stroke-width="1.2" fill="none"/>
<path d="M55.5 291.5H595.5" stroke="#4d4d55" stroke-width="1" fill="none"/>
<g opacity="0.99">
<text transform="translate(49.20,245.30) scale(0.855,1)" text-anchor="end">0.0</text>
<text transform="translate(49.20,230.09) scale(0.855,1)" text-anchor="end">0.5</text>
<text transform="translate(49.20,214.87) scale(0.855,1)" text-anchor="end">1.0</text>
<text transform="translate(49.20,199.66) scale(0.855,1)" text-anchor="end">1.5</text>
<text transform="translate(49.20,184.44) scale(0.855,1)" text-anchor="end">2.0</text>
<text transform="translate(49.20,169.23) scale(0.855,1)" text-anchor="end">2.5</text>
<text transform="translate(49.20,154.01) scale(0.855,1)" text-anchor="end">3.0</text>
<text transform="translate(49.20,138.80) scale(0.855,1)" text-anchor="end">3.5</text>
<text transform="translate(49.20,123.58) scale(0.855,1)" text-anchor="end">4.0</text>
<text transform="translate(49.20,108.36) scale(0.855,1)" text-anchor="end">4.5</text>
<text transform="translate(49.20,93.15) scale(0.855,1)" text-anchor="end">5.0</text>
<text transform="translate(49.20,77.93) scale(0.855,1)" text-anchor="end">5.5</text>
<text transform="translate(49.20,62.72) scale(0.855,1)" text-anchor="end">6.0</text>
<text transform="translate(49.20,47.51) scale(0.855,1)" text-anchor="end">6.5</text>
<text transform="translate(49.20,32.29) scale(0.855,1)" text-anchor="end">7.0</text>
<text transform="translate(601.00,245.30) scale(0.855,1)" text-anchor="start">0</text>
<text transform="translate(601.00,230.09) scale(0.855,1)" text-anchor="start">10</text>
<text transform="translate(601.00,214.87) scale(0.855,1)" text-anchor="start">20</text>
<text transform="translate(601.00,199.66) scale(0.855,1)" text-anchor="start">30</text>
<text transform="translate(601.00,184.44) scale(0.855,1)" text-anchor="start">40</text>
<text transform="translate(601.00,169.23) scale(0.855,1)" text-anchor="start">50</text>
<text transform="translate(601.00,154.01) scale(0.855,1)" text-anchor="start">60</text>
<text transform="translate(601.00,138.80) scale(0.855,1)" text-anchor="start">70</text>
<text transform="translate(601.00,123.58) scale(0.855,1)" text-anchor="start">80</text>
<text transform="translate(601.00,108.36) scale(0.855,1)" text-anchor="start">90</text>
<text transform="translate(55.50,253.90) scale(0.855,1)" text-anchor="middle">0</text>
<text transform="translate(88.16,253.90) scale(0.855,1)" text-anchor="middle">0.5</text>
<text transform="translate(120.83,253.90) scale(0.855,1)" text-anchor="middle">1.0</text>
<text transform="translate(153.50,253.90) scale(0.855,1)" text-anchor="middle">1.5</text>
<text transform="translate(186.16,253.90) scale(0.855,1)" text-anchor="middle">2.0</text>
<text transform="translate(218.82,253.90) scale(0.855,1)" text-anchor="middle">2.5</text>
<text transform="translate(251.49,253.90) scale(0.855,1)" text-anchor="middle">3.0</text>
<text transform="translate(284.15,253.90) scale(0.855,1)" text-anchor="middle">3.5</text>
<text transform="translate(316.82,253.90) scale(0.855,1)" text-anchor="middle">4.0</text>
<text transform="translate(349.49,253.90) scale(0.855,1)" text-anchor="middle">4.5</text>
<text transform="translate(382.15,253.90) scale(0.855,1)" text-anchor="middle">5.0</text>
<text transform="translate(414.81,253.90) scale(0.855,1)" text-anchor="middle">5.5</text>
<text transform="translate(447.48,253.90) scale(0.855,1)" text-anchor="middle">6.0</text>
<text transform="translate(480.14,253.90) scale(0.855,1)" text-anchor="middle">6.5</text>
<text transform="translate(512.81,253.90) scale(0.855,1)" text-anchor="middle">7.0</text>
<text transform="translate(545.47,253.90) scale(0.855,1)" text-anchor="middle">7.5</text>
<text transform="translate(562.47,253.90) scale(0.855,1)" text-anchor="start">Q [m³/h]</text>
<text transform="translate(49.10,469.20) scale(0.855,1)" text-anchor="end">0</text>
<text transform="translate(49.10,452.97) scale(0.855,1)" text-anchor="end">10</text>
<text transform="translate(49.10,436.73) scale(0.855,1)" text-anchor="end">20</text>
<text transform="translate(49.10,420.50) scale(0.855,1)" text-anchor="end">30</text>
<text transform="translate(49.10,404.27) scale(0.855,1)" text-anchor="end">40</text>
<text transform="translate(49.10,388.04) scale(0.855,1)" text-anchor="end">50</text>
<text transform="translate(49.10,371.80) scale(0.855,1)" text-anchor="end">60</text>
<text transform="translate(49.10,355.57) scale(0.855,1)" text-anchor="end">70</text>
<text transform="translate(49.10,339.34) scale(0.855,1)" text-anchor="end">80</text>
<text transform="translate(49.10,323.10) scale(0.855,1)" text-anchor="end">90</text>
<text transform="translate(46.00,7.00) scale(0.855,1)" text-anchor="middle">H</text>
<text transform="translate(46.40,15.00) scale(0.855,1)" text-anchor="middle">[m]</text>
<text transform="translate(599.30,7.20) scale(0.855,1)" text-anchor="start">eta</text>
<text transform="translate(599.30,15.00) scale(0.855,1)" text-anchor="start">[%]</text>
<text transform="translate(40.00,298.00) scale(0.855,1)" text-anchor="start">P1</text>
<text transform="translate(39.80,306.80) scale(0.855,1)" text-anchor="start">[W]</text>
 <rect x="491.5" y="0.5" width="103.5" height="11.5" fill="#fff" stroke="#777" stroke-width="1"/>
<text transform="translate(494.80,9.20) scale(0.855,1)" text-anchor="start">MAGNA1 25-60 N, 1*230 V</text>
<text transform="translate(56.50,266.00) scale(0.855,1)" text-anchor="start">Q = 4.508 m³/h</text>
<text transform="translate(56.50,275.50) scale(0.868,1)" text-anchor="start">Pumped liquid = Water</text>
<text transform="translate(56.50,285.00) scale(0.855,1)" text-anchor="start">Density = 983.2 kg/m³</text>
<text transform="translate(229.50,266.00) scale(0.855,1)" text-anchor="start">H = 4.037 m</text>
<text transform="translate(229.50,275.50) scale(0.874,1)" text-anchor="start">Liquid temperature during operation = 60 °C</text>
<text transform="translate(229.50,285.00) scale(0.87,1)" text-anchor="start">Eta pump+motor+freq.converter = 54.2 %</text>
<text transform="translate(56.50,478.60) scale(0.855,1)" text-anchor="start">P1 = 90 W</text>
</g>
</svg>
</body></html>
